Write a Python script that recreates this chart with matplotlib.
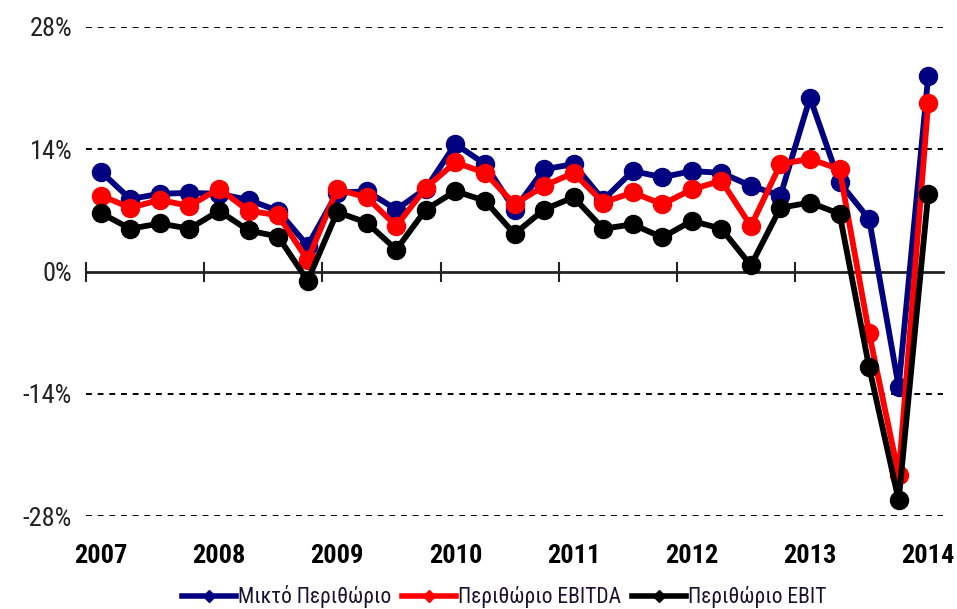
import numpy as np
import matplotlib
matplotlib.use("Agg")
import matplotlib.pyplot as plt
from matplotlib.lines import Line2D
from matplotlib.ticker import FuncFormatter

plt.rcParams['font.family'] = ['Roboto Condensed', 'DejaVu Sans']

# quarterly data, 2007 Q1 .. 2014 Q1
years = ['2007', '2008', '2009', '2010', '2011', '2012', '2013', '2014']
quarters = [f'{y} Q{q}' for y in years for q in range(1, 5)][:29]

gross_margin = [11.45, 8.3, 8.9, 9.0, 8.9, 8.2, 6.95, 2.95,
                9.0, 9.2, 7.1, 9.5, 14.6, 12.3, 7.1, 11.7,
                12.3, 8.2, 11.5, 10.8, 11.5, 11.3, 9.8, 8.7,
                19.9, 10.2, 6.0, -13.2, 22.4]
ebitda_margin = [8.7, 7.3, 8.2, 7.5, 9.5, 6.95, 6.45, 1.3,
                 9.4, 8.5, 5.2, 9.6, 12.5, 11.3, 7.7, 9.8,
                 11.3, 7.9, 9.05, 7.7, 9.4, 10.4, 5.2, 12.3,
                 12.9, 11.7, -7.1, -23.3, 19.3]
ebit_margin = [6.7, 4.9, 5.5, 4.9, 6.95, 4.7, 4.0, -1.05,
               6.8, 5.6, 2.5, 7.1, 9.2, 8.1, 4.3, 7.1,
               8.5, 4.9, 5.4, 3.9, 5.8, 4.9, 0.7, 7.3,
               7.9, 6.6, -10.95, -26.2, 8.9]

labels = ['Μικτό Περιθώριο', 'Περιθώριο EBITDA', 'Περιθώριο EBIT']
colors = ['#000080', '#FF0000', '#000000']
yticks = [-28, -14, 0, 14, 28]

fig = plt.figure(figsize=(9.57, 6.09), dpi=100)
ax = fig.add_axes([86 / 957, 1 - 516 / 609, (943 - 86) / 957, (516 - 27) / 609])

x = np.arange(len(quarters))
for i, (vals, c) in enumerate(zip([gross_margin, ebitda_margin, ebit_margin], colors)):
    ax.plot(x, vals, color=c, lw=4.2, marker='o', ms=13, mfc=c, mec=c,
            zorder=3 + i, clip_on=False)

ax.set_xlim(-0.5, len(quarters) - 0.5)
ax.set_ylim(-28, 28)

# dashed gridlines
ax.set_yticks(yticks)
ax.yaxis.set_major_formatter(FuncFormatter(lambda v, p: f'{v:.0f}%'))
for v in yticks:
    if v != 0:
        ax.axhline(v, color='black', lw=1.4, ls=(0, (3, 3)), zorder=1)
ax.tick_params(axis='y', length=0, pad=10, labelsize=19, labelcolor='#222222')

# category axis line at zero with tick marks between years
for s in ['top', 'right', 'left']:
    ax.spines[s].set_visible(False)
ax.spines['bottom'].set_position(('data', 0))
ax.spines['bottom'].set_linewidth(2)
ax.spines['bottom'].set_color('#222222')
ax.spines['bottom'].set_zorder(2)
ax.set_xticks(np.arange(-0.5, len(quarters) - 1, 4))
ax.set_xticklabels([])
ax.tick_params(axis='x', direction='inout', length=14, width=1.5, color='#222222')

# year labels at the bottom
sec = ax.secondary_xaxis('bottom')
sec.spines['bottom'].set_visible(False)
sec.set_xticks(x[::4])
sec.set_xticklabels([q.split()[0] for q in quarters[::4]], fontweight='bold')
sec.tick_params(axis='x', length=0, pad=20, labelsize=19)

handles = [Line2D([0], [0], color=c, lw=4, marker='D', ms=6, mfc=c, mec=c)
           for c in colors]
fig.legend(handles, labels, loc='center', bbox_to_anchor=(0.527, 12 / 609),
           ncol=3, frameon=False, fontsize=15.5, handlelength=2.5,
           handletextpad=0.1, columnspacing=0.5, borderaxespad=0,
           labelcolor='#1a1030')

fig.savefig('out.png', dpi=100)
